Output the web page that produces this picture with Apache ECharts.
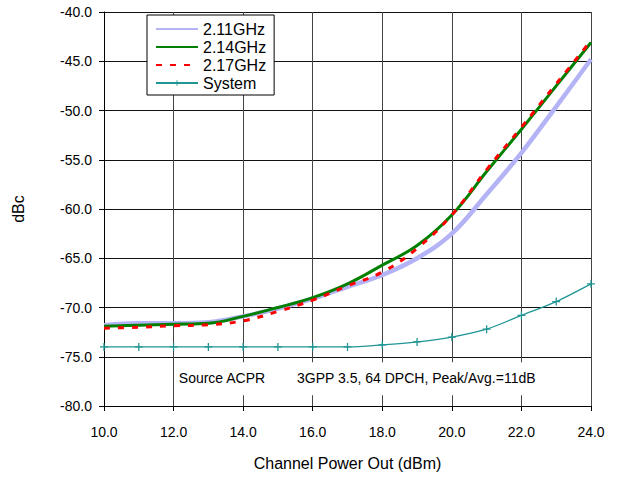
<!DOCTYPE html>
<html>
<head>
<meta charset="utf-8">
<script src="https://cdn.jsdelivr.net/npm/echarts@6/dist/echarts.min.js"></script>
<style>
html,body{margin:0;padding:0;background:#fff;}
#chart{width:621px;height:479px;}
</style>
</head>
<body>
<div id="chart"></div>
<script>
const xValues = [10, 11, 12, 13, 14, 15, 16, 17, 18, 19, 20, 21, 22, 23, 24];
const ghz211 = [-71.8, -71.6, -71.6, -71.5, -70.9, -70.1, -69.1, -67.9, -66.7, -65.0, -62.5, -58.5, -54.3, -49.6, -44.8];
const ghz214 = [-71.9, -71.8, -71.7, -71.6, -70.9, -70.0, -69.0, -67.6, -65.7, -63.7, -60.6, -56.2, -51.9, -47.5, -43.1];
const ghz217 = [-72.1, -72.0, -71.85, -71.75, -71.35, -70.4, -69.25, -67.8, -66.4, -64.0, -60.6, -56.0, -51.7, -47.3, -42.9];
const systemVals = [-74.0, -74.0, -74.0, -74.0, -74.0, -74.0, -74.0, -74.0, -73.8, -73.5, -73.0, -72.2, -70.8, -69.4, -67.6];
const seriesNames = ['2.11GHz', '2.14GHz', '2.17GHz', 'System'];
const noteLeft = 'Source ACPR';
const noteRight = '3GPP 3.5, 64 DPCH, Peak/Avg.=11dB';
const xAxisName = 'Channel Power Out (dBm)';
const yAxisName = 'dBc';

const FONT = '"Liberation Sans", Arial, sans-serif';
const pair = arr => xValues.map((x, i) => [x, arr[i]]);
const plusPath = 'path://M0,0h0.01v0.01h-0.01Z M20,20h-0.01v-0.01h0.01Z M9.2,5H10.8V9.2H15V10.8H10.8V15H9.2V10.8H5V9.2H9.2Z';

const chart = echarts.init(document.getElementById('chart'), null, {renderer: 'svg'});
chart.setOption({
  animation: false,
  backgroundColor: '#fff',
  textStyle: {fontFamily: FONT, color: '#000'},
  grid: {left: 104, right: 30, top: 12, bottom: 73, containLabel: false},
  legend: {
    orient: 'vertical',
    left: 147, top: 15,
    padding: [6, 8, 4, 8],
    itemWidth: 42, itemHeight: 14, itemGap: 2,
    backgroundColor: '#fff',
    borderColor: '#000', borderWidth: 1,
    textStyle: {fontFamily: FONT, fontSize: 16, lineHeight: 16, color: '#000'},
    data: [
      {name: seriesNames[0], itemStyle: {opacity: 0}},
      {name: seriesNames[1], itemStyle: {opacity: 0}},
      {name: seriesNames[2], itemStyle: {opacity: 0}},
      {name: seriesNames[3]}
    ]
  },
  xAxis: {
    type: 'value', min: 10, max: 24, interval: 2,
    name: xAxisName, nameLocation: 'middle', nameGap: 49,
    nameTextStyle: {fontFamily: FONT, fontSize: 16, color: '#000'},
    axisLine: {show: true, onZero: false, lineStyle: {color: '#000', width: 1}},
    axisTick: {show: true, length: 5, lineStyle: {color: '#000'}},
    axisLabel: {fontFamily: FONT, fontSize: 14, color: '#000', margin: 19, formatter: v => v.toFixed(1)},
    splitLine: {show: true, lineStyle: {color: '#444', width: 1}}
  },
  yAxis: {
    type: 'value', min: -80, max: -40, interval: 5,
    name: yAxisName, nameLocation: 'middle', nameGap: 78, nameRotate: 90,
    nameTextStyle: {fontFamily: FONT, fontSize: 16, color: '#000'},
    axisLine: {show: true, onZero: false, lineStyle: {color: '#000', width: 1}},
    axisTick: {show: true, length: 5, lineStyle: {color: '#000'}},
    axisLabel: {fontFamily: FONT, fontSize: 14, color: '#000', margin: 12, formatter: v => v.toFixed(1)},
    splitLine: {show: true, lineStyle: {color: '#111', width: 1}}
  },
  series: [
    {
      name: seriesNames[0], type: 'line', data: pair(ghz211), smooth: 0.4,
      symbol: 'none', lineStyle: {color: '#b3b3f5', width: 4.5}, itemStyle: {color: '#b3b3f5'}, z: 2
    },
    {
      name: seriesNames[1], type: 'line', data: pair(ghz214), smooth: 0.4,
      symbol: 'none', lineStyle: {color: '#008000', width: 3}, itemStyle: {color: '#008000'}, z: 3
    },
    {
      name: seriesNames[2], type: 'line', data: pair(ghz217), smooth: 0.4,
      symbol: 'none', lineStyle: {color: '#ff0000', width: 3, type: [6, 8]}, itemStyle: {color: '#ff0000'}, z: 4
    },
    {
      name: seriesNames[3], type: 'line', data: pair(systemVals), smooth: 0.3,
      symbol: plusPath, symbolSize: 16, showSymbol: true,
      lineStyle: {color: '#1f9595', width: 1.3}, itemStyle: {color: '#1f9595'}, z: 5
    }
  ]
});

// annotation box in data coordinates
const p1 = chart.convertToPixel({gridIndex: 0}, [12.04, -75.56]);
const p2 = chart.convertToPixel({gridIndex: 0}, [23.93, -78.9]);
const tA = chart.convertToPixel({gridIndex: 0}, [12.15, -77.2]);
const tB = chart.convertToPixel({gridIndex: 0}, [15.55, -77.2]);
chart.setOption({
  graphic: [
    {type: 'rect', shape: {x: p1[0], y: p1[1], width: p2[0] - p1[0], height: p2[1] - p1[1]}, style: {fill: '#fff'}, z: 10},
    {type: 'text', x: tA[0], y: tA[1], style: {text: noteLeft, fontFamily: FONT, fontSize: 14, fill: '#000', verticalAlign: 'middle', align: 'left'}, z: 11},
    {type: 'text', x: tB[0], y: tB[1], style: {text: noteRight, fontFamily: FONT, fontSize: 14, fill: '#000', verticalAlign: 'middle', align: 'left'}, z: 11}
  ]
});
</script>
</body>
</html>
